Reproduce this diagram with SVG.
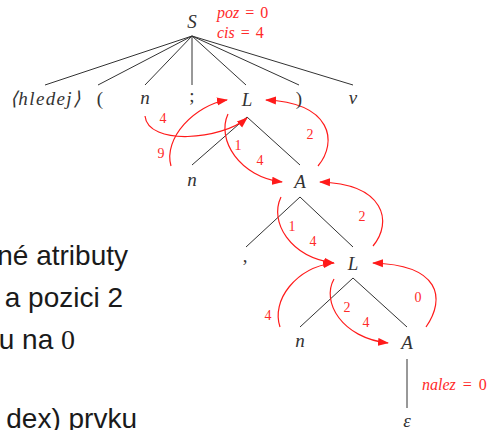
<svg xmlns="http://www.w3.org/2000/svg" width="494" height="430" viewBox="0 0 494 430">
<style>
.t{font-family:'Liberation Serif','Times New Roman',serif;font-style:italic;font-size:19px;fill:#333;text-anchor:middle}
.up{font-style:normal}
.lab{font-family:'Liberation Serif','Times New Roman',serif;font-size:14px;fill:#ff2a2a;text-anchor:middle}
.attr{font-family:'Liberation Serif','Times New Roman',serif;font-style:italic;font-size:16px;fill:#ff2a2a}
.body{font-family:'Liberation Sans',Arial,sans-serif;font-size:28px;fill:#1a1a1a}
.edge{stroke:#333;stroke-width:1;fill:none}
.flow{stroke:#ff1a1a;stroke-width:1.2;fill:none;marker-end:url(#ah)}
</style>
<defs>
<marker id="ah" markerUnits="userSpaceOnUse" markerWidth="11" markerHeight="9" viewBox="0 0 11 9" refX="10" refY="4.5" orient="auto">
<path d="M0,0.5 L11,4.5 L0,8.5 z" fill="#ff1a1a"/>
</marker>
</defs>
<rect width="494" height="430" fill="#fff"/>

<g id="slide-text" class="body">
<text x="128" y="265" text-anchor="end">né atributy</text>
<text x="123" y="307" text-anchor="end">a pozici 2</text>
<text x="75" y="349" text-anchor="end">u na <tspan style="font-family:'Liberation Serif',serif">0</tspan></text>
<text x="137" y="428" text-anchor="end">dex) prvku</text>
</g>

<g id="connectors">
<path class="edge" d="M192,36 L45,85 M192,36 L98,85 M192,36 L145,85 M192,36 L192,85 M192,36 L246,85 M192,36 L299,85 M192,36 L353,85"/>
<path class="edge" d="M192,165 L247,117 L300,165"/>
<path class="edge" d="M246,247 L300,197 L353,247"/>
<path class="edge" d="M300,327 L353,278 L407,327"/>
<path class="edge" d="M407,359 L407,408"/>
<path class="flow" d="M145,116 C148,146 222,140 247,118"/>
<path class="flow" d="M171,166 C163,138 195,105 227,100"/>
<path class="flow" d="M228,114 C216,140 240,177 282,182"/>
<path class="flow" d="M318,166 C338,142 332,103 266,100"/>
<path class="flow" d="M281,197 C269,222 290,257 334,263"/>
<path class="flow" d="M373,246 C393,222 385,184 320,182"/>
<path class="flow" d="M280,327 C271,300 296,268 333,263"/>
<path class="flow" d="M334,279 C321,302 342,338 388,343"/>
<path class="flow" d="M426,327 C446,298 440,265 373,263"/>
</g>

<g id="flow-labels" class="lab">
<text x="163" y="123">4</text>
<text x="161" y="158">9</text>
<text x="238" y="150">1</text>
<text x="260" y="165">4</text>
<text x="310" y="139">2</text>
<text x="292" y="231">1</text>
<text x="313" y="246">4</text>
<text x="362" y="221">2</text>
<text x="268" y="320">4</text>
<text x="347" y="312">2</text>
<text x="366" y="327">4</text>
<text x="418" y="302">0</text>
</g>

<g id="node-S"><text class="t" x="192" y="28">S</text></g>
<g id="attr-S" class="attr">
<text x="217" y="18">poz<tspan class="up" dx="6">=</tspan><tspan class="up" dx="6">0</tspan></text>
<text x="217" y="38">cis<tspan class="up" dx="6">=</tspan><tspan class="up" dx="6">4</tspan></text>
</g>
<g id="node-hledej"><text class="t" x="45" y="105" textLength="70" lengthAdjust="spacing">⟨hledej⟩</text></g>
<g id="node-lpar"><text class="t up" x="100" y="105">(</text></g>
<g id="node-n1"><text class="t" x="145" y="104">n</text></g>
<g id="node-semi"><text class="t up" x="192" y="102">;</text></g>
<g id="node-L1"><text class="t" x="247" y="106">L</text></g>
<g id="node-rpar"><text class="t up" x="299" y="105">)</text></g>
<g id="node-v"><text class="t" x="353" y="104">v</text></g>
<g id="node-n2"><text class="t" x="192" y="186">n</text></g>
<g id="node-A1"><text class="t" x="300" y="188">A</text></g>
<g id="node-comma"><text class="t up" x="245" y="262">,</text></g>
<g id="node-L2"><text class="t" x="353" y="270">L</text></g>
<g id="node-n3"><text class="t" x="300" y="347">n</text></g>
<g id="node-A2"><text class="t" x="407" y="349">A</text></g>
<g id="node-eps"><text class="t" x="407" y="427">ε</text></g>
<g id="attr-A2" class="attr">
<text x="422" y="390">nalez<tspan class="up" dx="7">=</tspan><tspan class="up" dx="7">0</tspan></text>
</g>
</svg>
